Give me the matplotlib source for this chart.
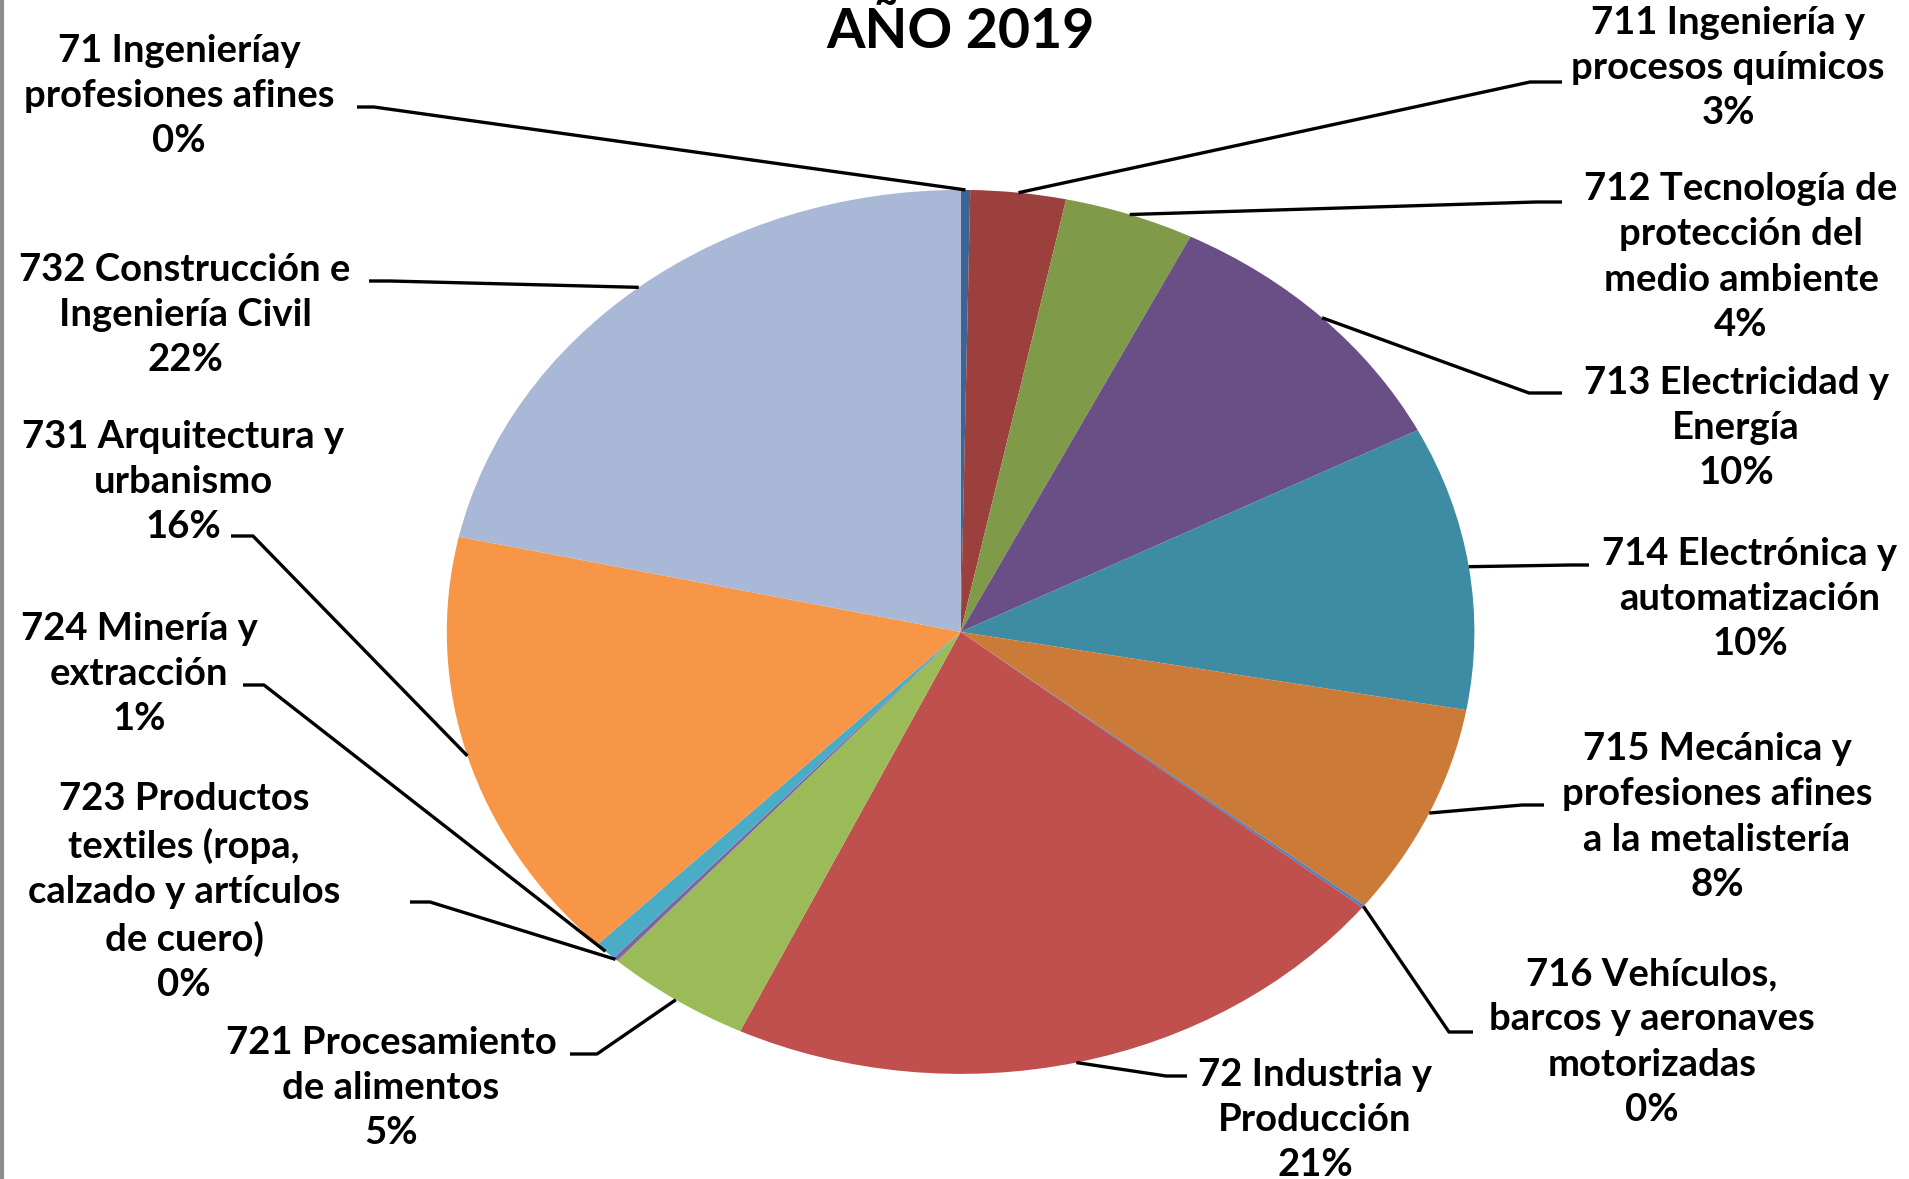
import numpy as np
import matplotlib.pyplot as plt

# data
names = [
    "71 Ingenieríay\nprofesiones afines",
    "711 Ingeniería y\nprocesos químicos",
    "712 Tecnología de\nprotección del\nmedio ambiente",
    "713 Electricidad y\nEnergía",
    "714 Electrónica y\nautomatización",
    "715 Mecánica y\nprofesiones afines\na la metalistería",
    "716 Vehículos,\nbarcos y aeronaves\nmotorizadas",
    "72 Industria y\nProducción",
    "721 Procesamiento\nde alimentos",
    "723 Productos\ntextiles (ropa,\ncalzado y artículos\nde cuero)",
    "724 Minería y\nextracción",
    "731 Arquitectura y\nurbanismo",
    "732 Construcción e\nIngeniería Civil",
]
values = [0.3, 3.0, 4.1, 10.1, 10.4, 7.8, 0.1, 21.4, 4.6, 0.15, 0.7, 16.0, 21.6]
colors = ["#3C6496", "#9C403E", "#7F9A48", "#6A4F87", "#3D8CA3", "#CC7A38",
          "#4F81BD", "#C0504D", "#9BBB59", "#8064A2", "#4BACC6", "#F79646",
          "#A9B8D6"]

# layout (pixels, origin top-left)
W, H = 1909, 1179
cx, cy, rx, ry = 960.6, 631.9, 513.8, 442.0
# label centre x, y
label_pos = [(179, 96), (1728, 68), (1741, 257), (1736, 428), (1750, 599),
             (1717, 817), (1652, 1042), (1315, 1120), (391, 1088),
             (184, 892), (139, 674), (183, 482), (185, 315)]
# elbow x, horizontal end x, elbow y
elbows = [(374, 357, 107), (1530, 1562, 82), (1536, 1562, 202),
          (1529, 1562, 393), (1571, 1589, 565), (1522, 1544, 805),
          (1449, 1473, 1032), (1166, 1187, 1076), (597, 570, 1054),
          (430, 410, 902), (264, 243, 685), (253, 231, 536),
          (390, 369, 281)]

plt.rcParams['font.family'] = ['Lato', 'DejaVu Sans']

fig = plt.figure(figsize=(W / 100, H / 100), dpi=100)
fig.patch.set_facecolor("white")

ax = fig.add_axes([(cx - rx) / W, 1 - (cy + ry) / H, 2 * rx / W, 2 * ry / H])
wedges, _ = ax.pie(values, colors=colors, startangle=90, counterclock=False,
                   radius=1, wedgeprops=dict(linewidth=0))
ax.set_aspect('auto')
ax.set_xlim(-1, 1)
ax.set_ylim(-1, 1)
ax.axis('off')

over = fig.add_axes([0, 0, 1, 1])
over.set_xlim(0, W)
over.set_ylim(H, 0)
over.axis('off')

total = sum(values)
for w, name, v, (lx, ly), (ex, hx, ey) in zip(wedges, names, values, label_pos, elbows):
    mid = np.deg2rad((w.theta1 + w.theta2) / 2)
    px = cx + rx * np.cos(mid)
    py = cy - ry * np.sin(mid)
    over.plot([px, ex, hx], [py, ey, ey], color="black", lw=2.4,
              solid_capstyle="butt")
    over.text(lx, ly, f"{name}\n{v / total * 100:.0f}%", ha="center",
              va="center", fontsize=27.5, fontweight="bold", linespacing=1.4)

over.text(960, 32, "AÑO 2019", ha="center", va="center", fontsize=40,
          fontweight="bold")
over.plot([1.5, 1.5], [0, H], color="#8C8C8C", lw=3)

fig.savefig("out.png", dpi=100)
